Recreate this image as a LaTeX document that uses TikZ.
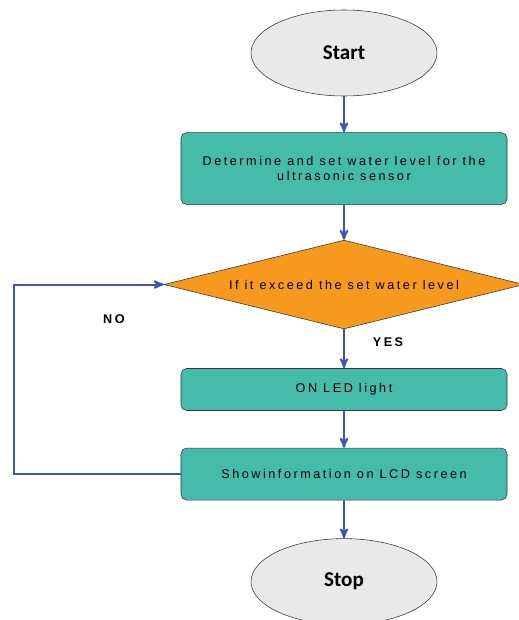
\documentclass[tikz,border=0pt]{standalone}
\usepackage{fontspec}
\setmainfont{Liberation Sans}
\newfontfamily\boxfont[LetterSpace=20]{Liberation Sans}
\newfontfamily\termfont{Carlito}
\usetikzlibrary{arrows,positioning,shapes.geometric}

\definecolor{boxteal}{RGB}{69,187,170}
\definecolor{decorange}{RGB}{247,153,29}
\definecolor{termgray}{RGB}{233,233,233}
\definecolor{flowblue}{RGB}{64,84,180}
\definecolor{edgedark}{RGB}{45,55,75}

\begin{document}
\begin{tikzpicture}[>=stealth', node distance=0.9cm]
	\tikzstyle{terminal}=[ellipse,draw=edgedark,fill=termgray,thin,minimum width=4.65cm,minimum height=2.15cm,font=\termfont\bfseries\fontsize{15}{18}\selectfont]
	\tikzstyle{process}=[rectangle,rounded corners=4pt,draw=edgedark,fill=boxteal,thin,minimum width=8.15cm,align=center,font=\boxfont\fontsize{9}{10.5}\selectfont]
	\tikzstyle{decision}=[diamond,aspect=4,inner sep=1pt,draw=edgedark,fill=decorange,thin,minimum width=9cm,minimum height=2.22cm,font=\boxfont\fontsize{9}{10.5}\selectfont]
	\tikzstyle{flow}=[->,draw=flowblue,line width=1.4pt]
	\tikzstyle{answer}=[font=\boxfont\bfseries\fontsize{9}{10.5}\selectfont]
	\useasboundingbox (0,0) rectangle (12.95,-15.5);

	\node[terminal]  (start) at (8.6,-1.325)       {Start};
	\node[process]   (setlevel)[below=0.9cm of start, minimum height=1.8cm] {Determine and set water level for the\\ultrasonic sensor};
	\node[decision]  (exceed)[below=0.875cm of setlevel] {If it exceed the set water level};
	\node[process]   (ledon)[below=0.975cm of exceed, minimum height=1.05cm] {ON LED light};
	\node[process]   (showlcd)[below=0.925cm of ledon, minimum height=1.3cm] {Showinformation on LCD screen};
	\node[terminal]  (stop)[below=0.95cm of showlcd] {Stop};
	\node[answer]    (yes) at (9.7,-8.55) {YES};
	\node[answer]    (no) at (2.85,-7.975) {NO};
	\coordinate (back) at (0.35,-10);

	\draw[flow] (start) -- (setlevel);
	\draw[flow] (setlevel) -- (exceed);
	\draw[flow] (exceed) -- (ledon);
	\draw[flow] (ledon) -- (showlcd);
	\draw[flow] (showlcd) -- (stop);
	\draw[flow] (showlcd.west) -| (back) |- (exceed.west);
\end{tikzpicture}
\end{document}
